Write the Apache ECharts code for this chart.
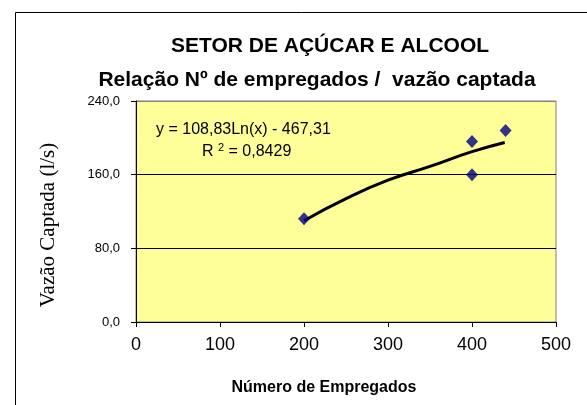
<!DOCTYPE html>
<html>
<head>
<meta charset="utf-8">
<script src="https://cdn.jsdelivr.net/npm/echarts@6/dist/echarts.min.js"></script>
<style>
  html, body { margin: 0; padding: 0; background: #fff; }
  #main { width: 587px; height: 405px; }
</style>
</head>
<body>
<div id="main"></div>
<script>
// pontos observados (nº de empregados, vazão captada l/s)
var empregados = [200, 400, 400, 440];
var vazao = [112, 196, 160, 208];

// linha de tendência logarítmica
var trendX = [200, 250, 300, 350, 400, 439];
var trendY = [110, 134, 154, 169, 185, 195];

var yTicks = ['0,0', '80,0', '160,0', '240,0'];
var xTicks = ['0', '100', '200', '300', '400', '500'];

var pts = empregados.map(function (x, i) { return [x, vazao[i]]; });
var trend = trendX.map(function (x, i) { return [x, trendY[i]]; });

var chart = echarts.init(document.getElementById('main'));
chart.setOption({
  backgroundColor: '#ffffff',
  animation: false,
  graphic: [
    {
      type: 'rect', z: -10,
      shape: { x: 15.5, y: 12.5, width: 600, height: 420 },
      style: { fill: 'none', stroke: '#000', lineWidth: 1 }
    },
    {
      type: 'text', z: 10,
      style: {
        x: 330, y: 46, align: 'center', verticalAlign: 'middle',
        text: 'SETOR DE AÇÚCAR E ALCOOL',
        font: 'bold 21px "Liberation Sans"', fill: '#000'
      }
    },
    {
      type: 'text', z: 10,
      style: {
        x: 317, y: 80, align: 'center', verticalAlign: 'middle',
        text: 'Relação Nº de empregados /  vazão captada',
        font: 'bold 21px "Liberation Sans"', fill: '#000'
      }
    },
    {
      type: 'text', z: 10, x: 48, y: 225, rotation: Math.PI / 2,
      style: {
        x: 0, y: 0, align: 'center', verticalAlign: 'middle',
        text: 'Vazão Captada (l/s)',
        font: '21px "Liberation Serif"', fill: '#000'
      }
    },
    {
      type: 'text', z: 10,
      style: {
        x: 324, y: 388, align: 'center', verticalAlign: 'middle',
        text: 'Número de Empregados',
        font: 'bold 16px "Liberation Sans"', fill: '#000'
      }
    },
    {
      type: 'text', z: 10,
      style: {
        x: 156, y: 130, align: 'left', verticalAlign: 'middle',
        text: 'y = 108,83Ln(x) - 467,31',
        font: '16px "Liberation Sans"', fill: '#000'
      }
    },
    {
      type: 'text', z: 10,
      style: {
        x: 202, y: 151, align: 'left', verticalAlign: 'middle',
        text: '{n|R }{s|2}{n| = 0,8429}',
        rich: {
          n: { fontFamily: 'Liberation Sans', fontSize: 16, fill: '#000', verticalAlign: 'bottom' },
          s: { fontFamily: 'Liberation Sans', fontSize: 11, fill: '#000', verticalAlign: 'top', padding: [0, 0, 7, 0] }
        }
      }
    }
  ],
  grid: {
    left: 136, right: 31, top: 101, bottom: 83,
    show: true, backgroundColor: '#FFFF99', borderColor: '#808080', borderWidth: 1
  },
  xAxis: {
    type: 'value', min: 0, max: 500, interval: 100,
    axisLine: { show: true, onZero: false, lineStyle: { color: '#000', width: 1 } },
    axisTick: { show: true, inside: false, length: 5, lineStyle: { color: '#000' } },
    axisLabel: {
      margin: 14, fontFamily: 'Liberation Sans', fontSize: 18, color: '#000',
      formatter: function (v) { return xTicks[Math.round(v / 100)]; }
    },
    splitLine: { show: false }
  },
  yAxis: {
    type: 'value', min: 0, max: 240, interval: 80,
    axisLine: { show: true, onZero: false, lineStyle: { color: '#000', width: 1 } },
    axisTick: { show: true, inside: false, length: 5, lineStyle: { color: '#000' } },
    axisLabel: {
      margin: 16, fontFamily: 'Liberation Sans', fontSize: 13, color: '#000',
      formatter: function (v) { return yTicks[Math.round(v / 80)]; }
    },
    splitLine: { show: true, lineStyle: { color: ['#000', '#000', '#000', '#808080'], width: 1 } }
  },
  series: [
    {
      name: 'Tendência', type: 'line', data: trend, smooth: true,
      showSymbol: false, z: 3,
      lineStyle: { color: '#000', width: 3 }
    },
    {
      name: 'Vazão', type: 'scatter', data: pts, z: 4,
      symbol: 'diamond', symbolSize: [12, 13],
      itemStyle: { color: '#000080' }
    }
  ]
});
</script>
</body>
</html>
